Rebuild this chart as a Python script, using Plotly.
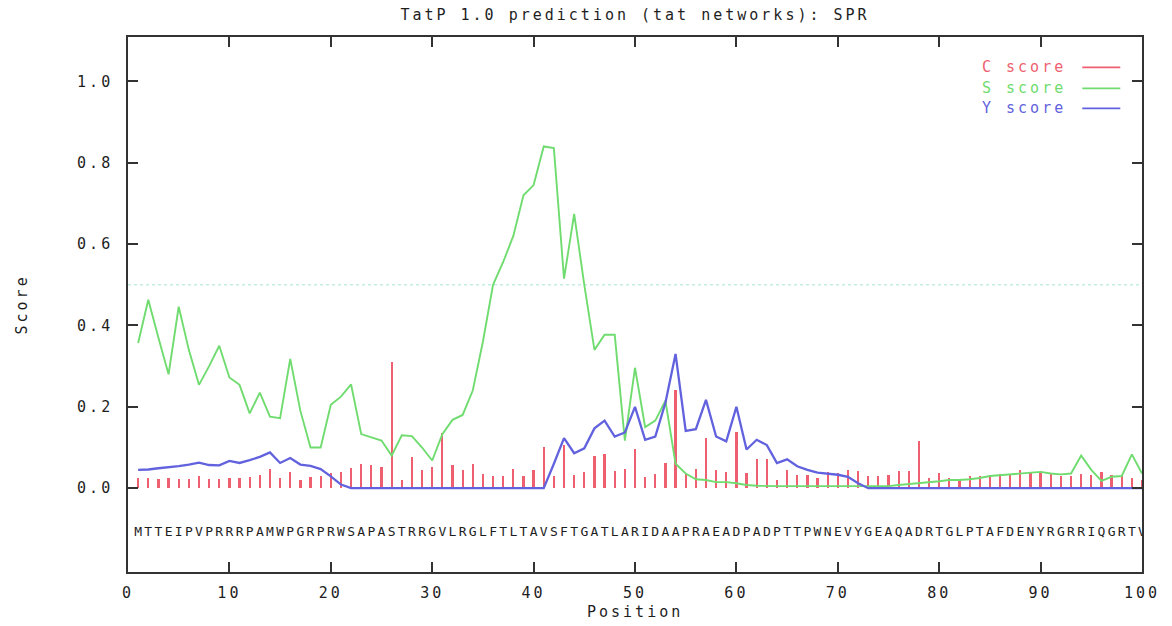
import plotly.graph_objects as go

# ---------------- data ----------------
positions = list(range(1, 101))

sequence = list("MTTEIPVPRRRPAMWPGRPRWSAPASTRRGVLRGLFTLTAVSFTGATLARIDAAPRAEADPADPTTPWNEVYGEAQADRTGLPTAFDENYRGRRIQGRTV")

c_score = [
    0.025, 0.025, 0.022, 0.025, 0.022, 0.022, 0.030, 0.022, 0.022, 0.025,
    0.025, 0.028, 0.033, 0.047, 0.025, 0.040, 0.020, 0.028, 0.030, 0.037,
    0.040, 0.050, 0.060, 0.057, 0.053, 0.311, 0.020, 0.076, 0.045, 0.052,
    0.135, 0.057, 0.045, 0.060, 0.036, 0.031, 0.031, 0.048, 0.031, 0.045,
    0.102, 0.029, 0.105, 0.033, 0.041, 0.078, 0.084, 0.043, 0.047, 0.096,
    0.027, 0.035, 0.063, 0.242, 0.038, 0.047, 0.123, 0.045, 0.041, 0.138,
    0.037, 0.071, 0.071, 0.020, 0.045, 0.033, 0.033, 0.026, 0.039, 0.037,
    0.045, 0.043, 0.031, 0.031, 0.033, 0.043, 0.043, 0.115, 0.026, 0.037,
    0.025, 0.020, 0.029, 0.031, 0.033, 0.035, 0.033, 0.045, 0.037, 0.037,
    0.035, 0.030, 0.029, 0.035, 0.033, 0.039, 0.033, 0.033, 0.025, 0.020,
]

s_score = [
    0.357, 0.463, 0.370, 0.280, 0.446, 0.340, 0.254, 0.300, 0.350, 0.272,
    0.254, 0.184, 0.235, 0.176, 0.172, 0.318, 0.190, 0.100, 0.100, 0.205,
    0.225, 0.255, 0.133, 0.125, 0.117, 0.080, 0.130, 0.128, 0.100, 0.068,
    0.133, 0.168, 0.180, 0.240, 0.360, 0.500, 0.556, 0.620, 0.720, 0.745,
    0.840, 0.836, 0.515, 0.674, 0.500, 0.340, 0.377, 0.377, 0.117, 0.296,
    0.150, 0.166, 0.215, 0.060, 0.036, 0.022, 0.020, 0.015, 0.015, 0.012,
    0.008, 0.006, 0.005, 0.005, 0.005, 0.005, 0.005, 0.005, 0.005, 0.005,
    0.005, 0.005, 0.005, 0.005, 0.005, 0.008, 0.010, 0.012, 0.015, 0.017,
    0.020, 0.020, 0.022, 0.025, 0.030, 0.032, 0.033, 0.036, 0.037, 0.040,
    0.036, 0.034, 0.036, 0.080, 0.045, 0.018, 0.028, 0.030, 0.083, 0.036,
]

y_score = [
    0.045, 0.046, 0.049, 0.051, 0.054, 0.058, 0.063, 0.057, 0.056, 0.067,
    0.062, 0.069, 0.077, 0.088, 0.062, 0.074, 0.058, 0.055, 0.047, 0.029,
    0.009, 0.000, 0.000, 0.000, 0.000, 0.000, 0.000, 0.000, 0.000, 0.000,
    0.000, 0.000, 0.000, 0.000, 0.000, 0.000, 0.000, 0.000, 0.000, 0.000,
    0.000, 0.060, 0.123, 0.086, 0.098, 0.147, 0.166, 0.127, 0.137, 0.200,
    0.119, 0.127, 0.210, 0.330, 0.141, 0.145, 0.217, 0.127, 0.115, 0.200,
    0.095, 0.119, 0.106, 0.062, 0.071, 0.054, 0.045, 0.038, 0.036, 0.033,
    0.028, 0.012, 0.000, 0.000, 0.000, 0.000, 0.000, 0.000, 0.000, 0.000,
    0.000, 0.000, 0.000, 0.000, 0.000, 0.000, 0.000, 0.000, 0.000, 0.000,
    0.000, 0.000, 0.000, 0.000, 0.000, 0.000, 0.000, 0.000, 0.000, 0.000,
]

threshold = 0.5
x_ticks = list(range(0, 101, 10))
y_ticks = [0.0, 0.2, 0.4, 0.6, 0.8, 1.0]
y_tick_labels = ["0.0", "0.2", "0.4", "0.6", "0.8", "1.0"]
series_names = ["C score", "S score", "Y score"]
title_text = "TatP 1.0 prediction (tat networks): SPR"

# ---------------- style ----------------
FONT = "DejaVu Sans Mono"
TXT = "#1e1e1e"
C_COL = "#ee5f70"
S_COL = "#70dc70"
Y_COL = "#6262de"
SP = 3  # letter spacing px


def spaced(t, sp=SP):
    return f'<span style="letter-spacing:{sp}px">{t}</span>'


fig = go.Figure()

fig.add_trace(go.Bar(x=positions, y=c_score, width=0.22,
                     marker=dict(color=C_COL, line=dict(width=0)),
                     name=series_names[0], showlegend=False))
fig.add_trace(go.Scatter(x=positions, y=s_score, mode="lines",
                         line=dict(color=S_COL, width=1.9),
                         name=series_names[1], showlegend=False))
fig.add_trace(go.Scatter(x=positions, y=y_score, mode="lines",
                         line=dict(color=Y_COL, width=2.3),
                         name=series_names[2], showlegend=False))
fig.add_trace(go.Scatter(x=positions, y=[-0.11] * len(positions), mode="text",
                         text=sequence, textposition="middle center",
                         textfont=dict(family=FONT, size=13, color=TXT),
                         showlegend=False, hoverinfo="skip"))

# threshold dotted line
fig.add_shape(type="line", xref="paper", x0=0, x1=1, yref="y",
              y0=threshold, y1=threshold,
              line=dict(color="#c4eee2", width=1.5, dash="dot"), layer="below")

axis_common = dict(
    showgrid=False, zeroline=False, showline=True, linecolor="#333",
    linewidth=1.6, mirror="allticks", ticks="inside", ticklen=10,
    tickwidth=1.6, tickcolor="#333",
    tickfont=dict(family=FONT, size=15, color=TXT),
)

fig.update_layout(
    width=1172, height=626,
    margin=dict(l=128, r=30, t=37, b=54),
    paper_bgcolor="white", plot_bgcolor="white",
    bargap=0,
    xaxis=dict(range=[0, 100], tickvals=x_ticks,
               ticktext=[spaced(str(v)) for v in x_ticks],
               ticklabelstandoff=6, **axis_common),
    yaxis=dict(range=[-0.206, 1.109], tickvals=y_ticks,
               ticktext=[spaced(t) for t in y_tick_labels],
               ticklabelstandoff=10, **axis_common),
    title=dict(text=spaced(title_text), x=0.5, xref="paper",
               y=1 - 15 / 626, yref="container", yanchor="middle",
               font=dict(family=FONT, size=15, color=TXT)),
    showlegend=False,
)

# axis titles
fig.add_annotation(text=spaced("Position"), xref="paper", yref="paper",
                   x=0.5, y=-(612 - 572) / 535, xanchor="center", yanchor="middle",
                   showarrow=False, font=dict(family=FONT, size=15, color=TXT))
fig.add_annotation(text=spaced("Score"), xref="paper", yref="paper",
                   x=-(128 - 22) / 1013.7, y=0.5, xanchor="center", yanchor="middle",
                   textangle=-90, showarrow=False,
                   font=dict(family=FONT, size=15, color=TXT))

# legend (text left, line sample right)
legend_rows = [(series_names[0], C_COL, 67.3), (series_names[1], S_COL, 88.3),
               (series_names[2], Y_COL, 108.3)]
for name, col, ypx in legend_rows:
    yp = (572 - ypx) / 535
    fig.add_annotation(text=spaced(name), xref="paper", yref="paper",
                       x=(1068 - 128) / 1013.7, y=yp, xanchor="right", yanchor="middle",
                       showarrow=False, font=dict(family=FONT, size=15, color=col))
    fig.add_shape(type="line", xref="paper", yref="paper",
                  x0=(1082 - 128) / 1013.7, x1=(1120 - 128) / 1013.7, y0=yp, y1=yp,
                  line=dict(color=col, width=1.8))

fig.write_html("out.html")
